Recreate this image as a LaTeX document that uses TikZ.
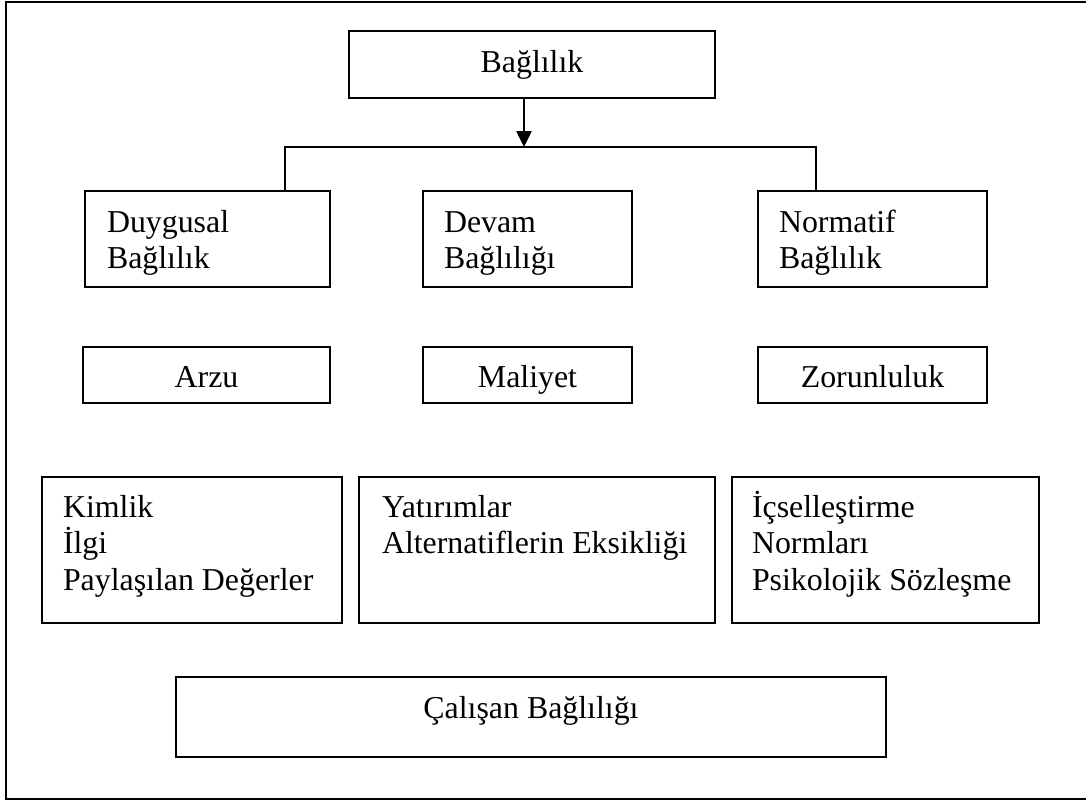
\documentclass[tikz,border=0pt]{standalone}
\usepackage{fontspec}
\setmainfont{Liberation Serif}
\usetikzlibrary{arrows.meta}

% stacked lines whose first baseline is the baseline of the whole block
\newcommand\stackl[1]{\vtop{\baselineskip=27.4pt #1}}

\tikzset{
  card/.style={draw=black, line width=1pt, fill=white, inner sep=0pt, outer sep=0pt, anchor=north west},
  lbl/.style={inner sep=0pt, outer sep=0pt, font=\fontsize{23.9pt}{27.4pt}\selectfont},
  conn/.style={draw=black, line width=1pt},
  outline/.style={draw=black, line width=1.3pt}
}

\begin{document}
\begin{tikzpicture}[x=0.75pt, y=-0.75pt]
  \useasboundingbox (0,0) rectangle (1086,800);
  \clip (0,0) rectangle (1086,800);

  % page frame (right side lies past the edge)
  \draw[outline] (1100,2) -- (6,2) -- (6,799) -- (1100,799);

  % boxes
  \node[card, minimum width=366*0.75pt, minimum height=67*0.75pt]  (top)  at (349,31)  {};
  \node[card, minimum width=245*0.75pt, minimum height=96*0.75pt]  (duy)  at (85,191)  {};
  \node[card, minimum width=209*0.75pt, minimum height=96*0.75pt]  (dev)  at (423,191) {};
  \node[card, minimum width=229*0.75pt, minimum height=96*0.75pt]  (norm) at (758,191) {};
  \node[card, minimum width=247*0.75pt, minimum height=56*0.75pt]  (arzu) at (83,347)  {};
  \node[card, minimum width=209*0.75pt, minimum height=56*0.75pt]  (mal)  at (423,347) {};
  \node[card, minimum width=229*0.75pt, minimum height=56*0.75pt]  (zor)  at (758,347) {};
  \node[card, minimum width=300*0.75pt, minimum height=146*0.75pt] (kim)  at (42,477)  {};
  \node[card, minimum width=356*0.75pt, minimum height=146*0.75pt] (yat)  at (359,477) {};
  \node[card, minimum width=307*0.75pt, minimum height=146*0.75pt] (ics)  at (732,477) {};
  \node[card, minimum width=710*0.75pt, minimum height=80*0.75pt]  (cal)  at (176,677) {};

  % texts
  \node[lbl, anchor=base] (topT) at (532,72) {Bağlılık};
  \node[lbl, anchor=base west] (duyT)  at (107,232) {\stackl{\hbox{Duygusal}\hbox{Bağlılık}}};
  \node[lbl, anchor=base west] (devT)  at (444,232) {\stackl{\hbox{Devam}\hbox{Bağlılığı}}};
  \node[lbl, anchor=base west] (normT) at (779,232) {\stackl{\hbox{Normatif}\hbox{Bağlılık}}};
  \node[lbl, anchor=base] (arzuT) at (206.5,387) {Arzu};
  \node[lbl, anchor=base] (malT)  at (527.5,387) {Maliyet};
  \node[lbl, anchor=base] (zorT)  at (872.5,387) {Zorunluluk};
  \node[lbl, anchor=base west] (kimT) at (63,517)  {\stackl{\hbox{Kimlik}\hbox{İlgi}\hbox{Paylaşılan Değerler}}};
  \node[lbl, anchor=base west] (yatT) at (382,517) {\stackl{\hbox{Yatırımlar}\hbox{Alternatiflerin Eksikliği}}};
  \node[lbl, anchor=base west] (icsT) at (752,517) {\stackl{\hbox{İçselleştirme}\hbox{Normları}\hbox{Psikolojik Sözleşme}}};
  \node[lbl, anchor=base] (calT) at (531,718) {Çalışan Bağlılığı};

  % connectors
  \coordinate (busM) at (524,147);
  \coordinate (busL) at (285,147);
  \coordinate (busR) at (816,147);
  \draw[conn, -{Triangle[width=11.5pt, length=12pt]}] (top.south -| busM) -- (busM);
  \draw[conn] (duy.north -| busL) -- (busL) -- (busR) -- (norm.north -| busR);
\end{tikzpicture}
\end{document}
